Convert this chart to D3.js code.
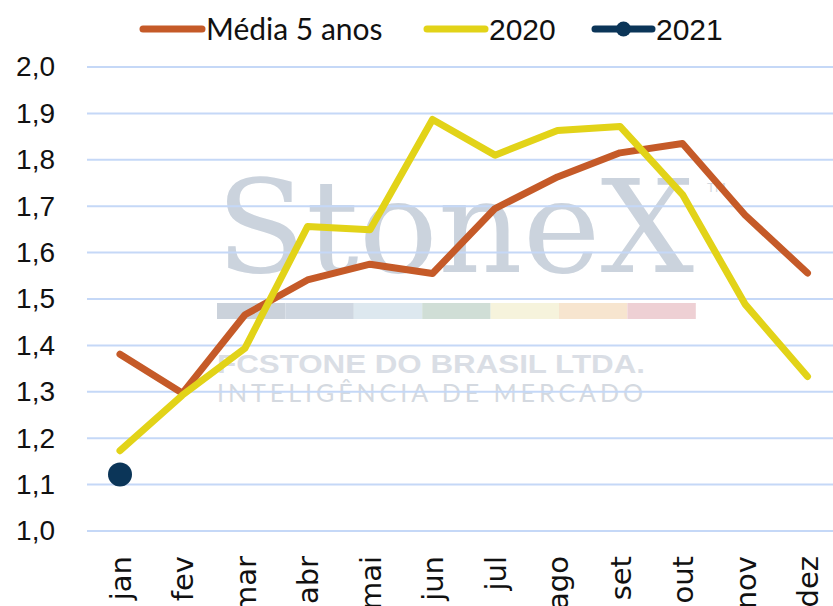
<!DOCTYPE html>
<html>
<head>
<meta charset="utf-8">
<script src="https://cdn.jsdelivr.net/npm/d3@7"></script>
<style>
  html, body { margin: 0; padding: 0; background: #ffffff; }
  svg { display: block; }
</style>
</head>
<body>
<svg id="chart" width="833" height="606"></svg>
<script>
const months = ["jan","fev","mar","abr","mai","jun","jul","ago","set","out","nov","dez"];
const media5 = [1.381, 1.297, 1.466, 1.541, 1.575, 1.555, 1.695, 1.763, 1.815, 1.835, 1.681, 1.556];
const y2020  = [1.173, 1.293, 1.394, 1.656, 1.649, 1.887, 1.810, 1.863, 1.872, 1.725, 1.489, 1.333];
const y2021  = [1.122];
const yTicks = [1.0, 1.1, 1.2, 1.3, 1.4, 1.5, 1.6, 1.7, 1.8, 1.9, 2.0];
const seriesNames = ["Média 5 anos", "2020", "2021"];
const colors = { media: "#C55A28", y2020: "#E2D318", y2021: "#0B3558" };

const svg = d3.select("#chart");

const x = d3.scalePoint().domain(months).range([88.75, 838.75]).padding(0.5);
const y = d3.scaleLinear().domain([1.0, 2.0]).range([531, 67]);

// watermark
const wm = svg.append("g").attr("class", "watermark");
wm.append("text")
  .attr("x", 216).attr("y", 272)
  .attr("font-family", "DejaVu Serif, serif")
  .attr("font-size", 130)
  .attr("textLength", 478).attr("lengthAdjust", "spacingAndGlyphs")
  .attr("fill", "#cbd3dd")
  .text("StoneX");
wm.append("text")
  .attr("x", 707).attr("y", 192)
  .attr("font-family", "Liberation Sans, sans-serif")
  .attr("font-size", 13)
  .attr("fill", "#d3d9e1")
  .text("TM");
const barColors = ["#cbd2db", "#cfd7e1", "#dde8ef", "#d0ded6", "#f6f3dc", "#f7e5cf", "#eed0d4"];
wm.selectAll("rect.wmbar").data(barColors).join("rect")
  .attr("class", "wmbar")
  .attr("x", (d, i) => 217 + i * 68.4)
  .attr("y", 303).attr("width", 68.4).attr("height", 16)
  .attr("fill", d => d);
wm.append("text")
  .attr("x", 217).attr("y", 373)
  .attr("font-family", "Liberation Sans, sans-serif")
  .attr("font-weight", "bold")
  .attr("font-size", 25)
  .attr("textLength", 428).attr("lengthAdjust", "spacingAndGlyphs")
  .attr("fill", "#dadee5")
  .text("FCSTONE DO BRASIL LTDA.");
wm.append("text")
  .attr("x", 217).attr("y", 402)
  .attr("font-family", "Lato, sans-serif")
  .attr("font-weight", 400)
  .attr("font-size", 25)
  .attr("textLength", 426).attr("lengthAdjust", "spacing")
  .attr("fill", "#d4d9e0")
  .text("INTELIGÊNCIA DE MERCADO");

// gridlines
svg.append("g").selectAll("line").data(yTicks).join("line")
  .attr("x1", 87).attr("x2", 833)
  .attr("y1", d => y(d)).attr("y2", d => y(d))
  .attr("stroke", "#c5d8f7").attr("stroke-width", 2);

// y axis
const yAxis = d3.axisLeft(y).tickValues(yTicks).tickSize(0).tickPadding(0)
  .tickFormat(d => d.toFixed(1).replace(".", ","));
const yg = svg.append("g").attr("transform", "translate(55,0)").call(yAxis);
yg.select(".domain").remove();
yg.selectAll("text")
  .attr("font-family", "Liberation Sans, Arial, sans-serif")
  .attr("font-size", 28)
  .attr("fill", "#111");

// x axis
const xAxis = d3.axisBottom(x).tickSize(0).tickPadding(0);
const xg = svg.append("g").attr("transform", "translate(0,556)").call(xAxis);
xg.select(".domain").remove();
xg.selectAll("text")
  .attr("font-family", "DejaVu Sans, sans-serif")
  .attr("font-size", 29)
  .attr("fill", "#111")
  .attr("text-anchor", "end")
  .attr("transform", "rotate(-90)")
  .attr("x", 0).attr("y", 0).attr("dy", "0.35em");

// lines
const line = d3.line().x((d, i) => x(months[i])).y(d => y(d));
svg.append("path").datum(media5)
  .attr("d", line).attr("fill", "none")
  .attr("stroke", colors.media).attr("stroke-width", 7)
  .attr("stroke-linejoin", "round").attr("stroke-linecap", "round");
svg.append("path").datum(y2020)
  .attr("d", line).attr("fill", "none")
  .attr("stroke", colors.y2020).attr("stroke-width", 7)
  .attr("stroke-linejoin", "round").attr("stroke-linecap", "round");
svg.append("path").datum(y2021)
  .attr("d", line).attr("fill", "none")
  .attr("stroke", colors.y2021).attr("stroke-width", 7);
svg.append("g").selectAll("circle").data(y2021).join("circle")
  .attr("cx", (d, i) => x(months[i])).attr("cy", d => y(d))
  .attr("r", 12).attr("fill", colors.y2021);

// legend
const leg = svg.append("g");
const legItems = [
  { name: seriesNames[0], color: colors.media, x1: 143, x2: 202, tx: 206, marker: false, font: "Lato, sans-serif" },
  { name: seriesNames[1], color: colors.y2020, x1: 427, x2: 485, tx: 489, marker: false, font: "Liberation Sans, sans-serif" },
  { name: seriesNames[2], color: colors.y2021, x1: 595, x2: 652, tx: 656, marker: true, font: "Liberation Sans, sans-serif" }
];
legItems.forEach(it => {
  leg.append("line").attr("x1", it.x1).attr("x2", it.x2).attr("y1", 29).attr("y2", 29)
    .attr("stroke", it.color).attr("stroke-width", 7).attr("stroke-linecap", "round");
  if (it.marker) {
    leg.append("circle").attr("cx", (it.x1 + it.x2) / 2).attr("cy", 29).attr("r", 7.5).attr("fill", it.color);
  }
  leg.append("text").attr("x", it.tx).attr("y", 29).attr("dy", "0.36em")
    .attr("font-family", it.font).attr("font-size", 30).attr("fill", "#111")
    .text(it.name);
});
</script>
</body>
</html>
